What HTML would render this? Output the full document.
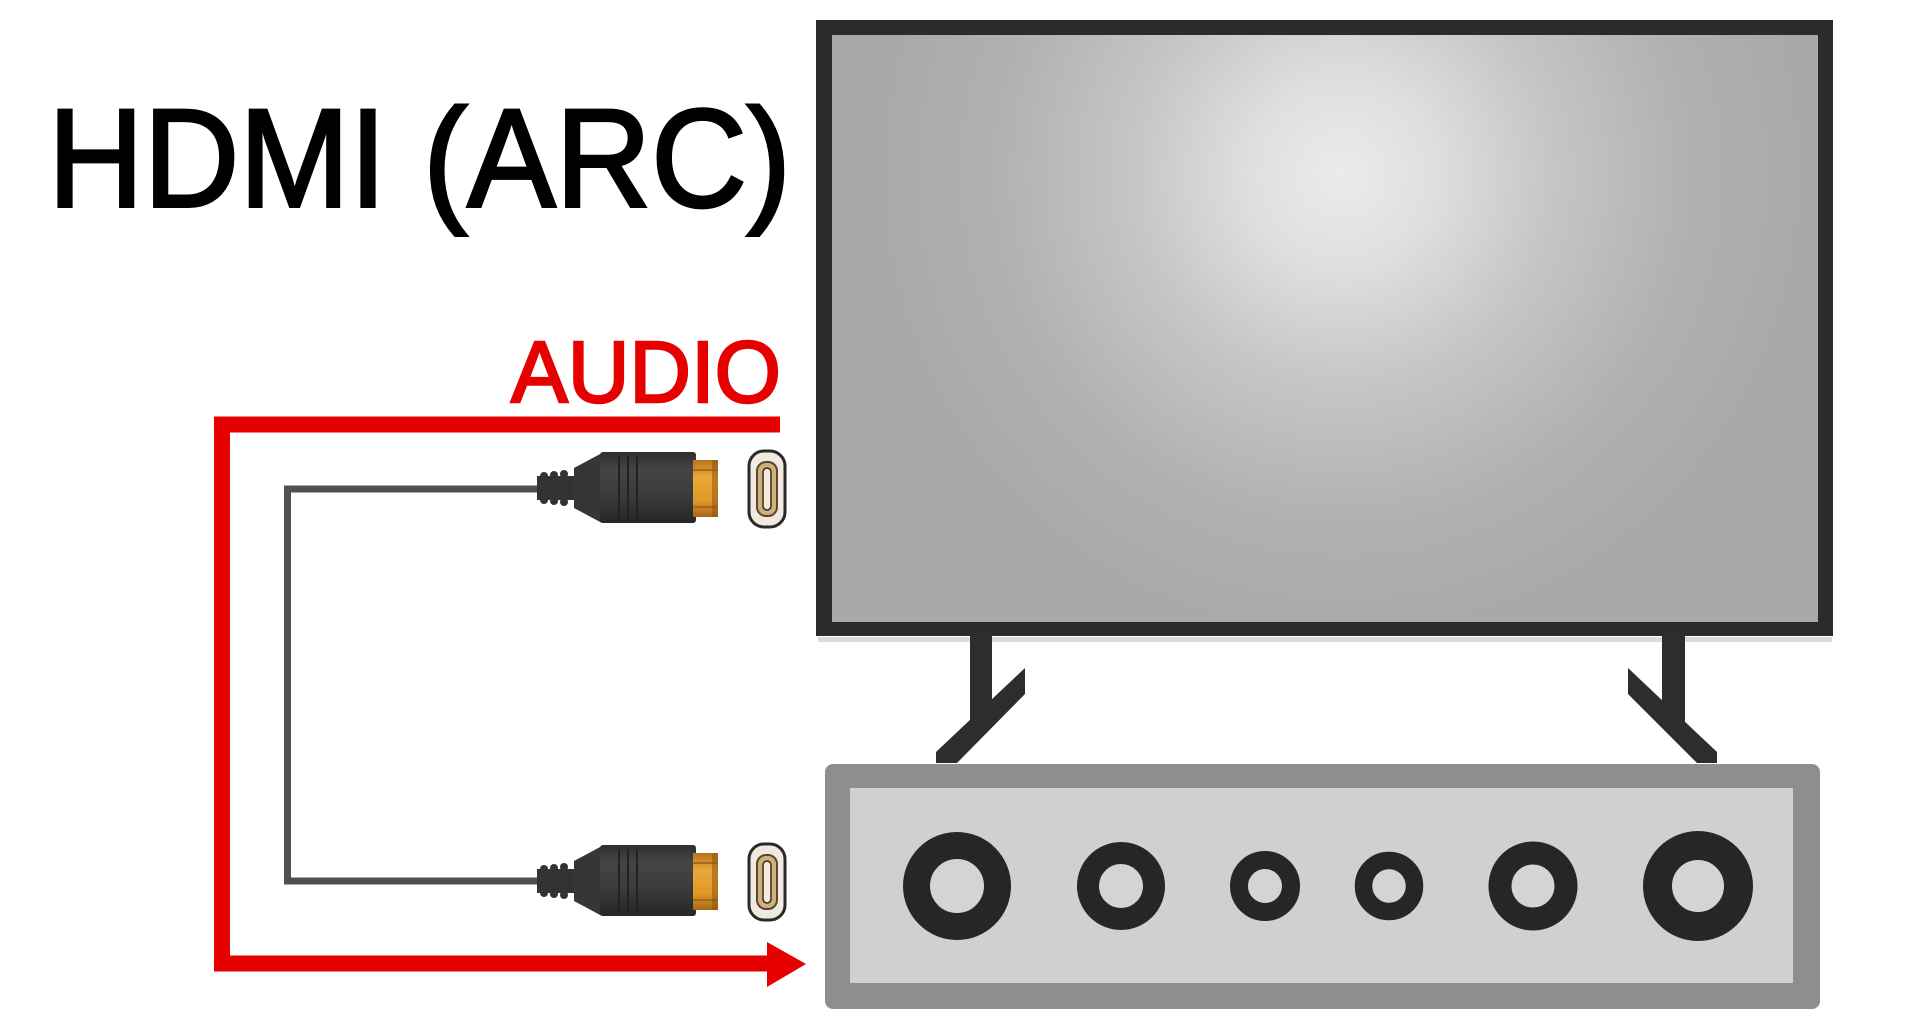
<!DOCTYPE html>
<html>
<head>
<meta charset="utf-8">
<style>
  html, body { margin: 0; padding: 0; background: #ffffff; }
  body { width: 1920px; height: 1024px; overflow: hidden; }
  svg { display: block; }
</style>
</head>
<body>
<svg width="1920" height="1024" viewBox="0 0 1920 1024" xmlns="http://www.w3.org/2000/svg">
  <defs>
    <radialGradient id="scr" gradientUnits="userSpaceOnUse" cx="1342" cy="175" r="460">
      <stop offset="0" stop-color="#ebebeb"/>
      <stop offset="0.2" stop-color="#dfdfdf"/>
      <stop offset="0.45" stop-color="#c6c6c6"/>
      <stop offset="0.75" stop-color="#b1b1b1"/>
      <stop offset="1" stop-color="#a9a9a9"/>
    </radialGradient>
    <linearGradient id="body" x1="0" y1="0" x2="0" y2="1">
      <stop offset="0" stop-color="#2e2e2e"/>
      <stop offset="0.25" stop-color="#454545"/>
      <stop offset="0.6" stop-color="#3c3c3c"/>
      <stop offset="1" stop-color="#262626"/>
    </linearGradient>
    <linearGradient id="gold" x1="0" y1="0" x2="0" y2="1">
      <stop offset="0" stop-color="#b8741a"/>
      <stop offset="0.3" stop-color="#e9a83a"/>
      <stop offset="0.7" stop-color="#e29a28"/>
      <stop offset="1" stop-color="#a8661a"/>
    </linearGradient>
    <g id="plug">
      <!-- ribbed neck -->
      <rect x="537" y="476" width="42" height="24" fill="#333"/>
      <circle cx="544" cy="476" r="4" fill="#333"/>
      <circle cx="554" cy="475" r="4" fill="#333"/>
      <circle cx="564" cy="474" r="4" fill="#333"/>
      <circle cx="544" cy="500" r="4" fill="#333"/>
      <circle cx="554" cy="501" r="4" fill="#333"/>
      <circle cx="564" cy="502" r="4" fill="#333"/>
      <!-- flare -->
      <polygon points="574,468 602,453 602,523 574,508" fill="#363636"/>
      <!-- body -->
      <rect x="600" y="452" width="96" height="71" rx="3" fill="url(#body)"/>
      <line x1="619" y1="456" x2="619" y2="519" stroke="#222" stroke-width="2"/>
      <line x1="628" y1="456" x2="628" y2="519" stroke="#222" stroke-width="2"/>
      <line x1="637" y1="456" x2="637" y2="519" stroke="#222" stroke-width="2"/>
      <!-- gold tip -->
      <rect x="693" y="460" width="25" height="57" fill="url(#gold)"/>
      <line x1="693" y1="470" x2="718" y2="470" stroke="#9c5e14" stroke-width="1.5"/>
      <line x1="693" y1="507" x2="718" y2="507" stroke="#9c5e14" stroke-width="1.5"/>
      <rect x="712" y="460" width="6" height="57" fill="#8a5210" opacity="0.5"/>
      <!-- port -->
      <rect x="749" y="451" width="36" height="76" rx="15" fill="#efe9df" stroke="#2a2a2a" stroke-width="3"/>
      <rect x="757" y="462" width="20" height="54" rx="9" fill="#d2b079" stroke="#5a4530" stroke-width="2"/>
      <rect x="763" y="468" width="8" height="42" rx="4" fill="#f3ead8" stroke="#2a2a2a" stroke-width="1.5"/>
    </g>
  </defs>

  <!-- Title -->
  <text x="48" y="206.5" font-family="'Liberation Sans', sans-serif" font-size="140" fill="#000" stroke="#000" stroke-width="3" textLength="743" lengthAdjust="spacingAndGlyphs">HDMI (ARC)</text>

  <!-- AUDIO label -->
  <text x="511" y="402" font-family="'Liberation Sans', sans-serif" font-size="87" fill="#e60000" stroke="#e60000" stroke-width="2.5" textLength="270" lengthAdjust="spacingAndGlyphs">AUDIO</text>

  <!-- Red audio path -->
  <polyline points="780,424.5 222,424.5 222,963.5 772,963.5" fill="none" stroke="#e60000" stroke-width="16" stroke-linejoin="miter"/>
  <polygon points="767,942 806,964 767,987" fill="#e60000"/>

  <!-- Gray HDMI cable -->
  <polyline points="541,489 287.5,489 287.5,881 541,881" fill="none" stroke="#505050" stroke-width="7" stroke-linejoin="miter"/>

  <!-- Plugs & ports -->
  <use href="#plug"/>
  <use href="#plug" transform="translate(0,393)"/>

  <!-- TV -->
  <rect x="818" y="637" width="1014" height="5" fill="#dcdcdc"/>
  <rect x="816" y="20" width="1017" height="616" fill="#2b2b2b"/>
  <rect x="832" y="35" width="986" height="587" fill="url(#scr)"/>

  <!-- Stands -->
  <rect x="970" y="630" width="22" height="92" fill="#2d2d2d"/>
  <polygon points="1025,668 1025,694 957,763 936,763 936,752" fill="#2d2d2d"/>
  <rect x="1662" y="630" width="23" height="92" fill="#2d2d2d"/>
  <polygon points="1628,668 1628,694 1697,763 1717,763 1717,752" fill="#2d2d2d"/>

  <!-- Soundbar -->
  <rect x="825" y="764" width="995" height="245" rx="8" fill="#8e8e8e"/>
  <rect x="850" y="788" width="943" height="195" fill="#d0d0d0"/>

  <!-- Speakers -->
  <g fill="#d4d4d4" stroke="#262626">
    <circle cx="957" cy="886" r="40.5" stroke-width="27"/>
    <circle cx="1121" cy="886" r="33" stroke-width="22"/>
    <circle cx="1265" cy="886" r="26" stroke-width="18"/>
    <circle cx="1389" cy="886" r="25.5" stroke-width="17.5"/>
    <circle cx="1533" cy="886" r="33" stroke-width="23"/>
    <circle cx="1698" cy="886" r="40.5" stroke-width="29"/>
  </g>
</svg>
</body>
</html>
